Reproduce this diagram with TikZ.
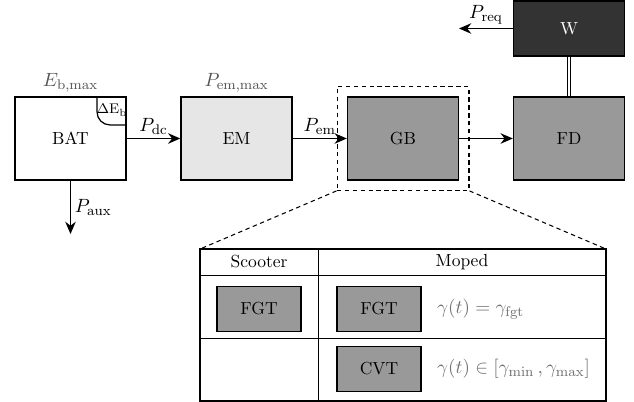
\documentclass[tikz,border=0pt]{standalone}
\usetikzlibrary{arrows.meta,fit}
\definecolor{emgray}{HTML}{E6E6E6}
\definecolor{gbgray}{HTML}{999999}
\definecolor{wdark}{HTML}{333333}
\definecolor{capgray}{HTML}{555555}
\definecolor{ratiogray}{HTML}{707070}
\begin{document}
\begin{tikzpicture}[x=0.5714pt,y=-0.5714pt,
  block/.style={draw=black, line width=0.8pt, minimum width=63.4pt, minimum height=47.3pt, inner sep=0pt},
  gearbox/.style={draw=black, line width=0.8pt, fill=gbgray, minimum width=48.2pt, minimum height=25.7pt, inner sep=0pt},
  flow/.style={-{Stealth[length=7pt,width=6pt]}, line width=0.9pt},
  flowlabel/.style={font=\fontsize{11.2}{13}\selectfont, inner sep=2pt},
  caplabel/.style={text=capgray, anchor=south, inner sep=2pt, font=\fontsize{11}{13}\selectfont},
  ratio/.style={text=ratiogray, anchor=west, font=\fontsize{11}{13}\selectfont},
  tableline/.style={line width=0.7pt},
  zoomline/.style={line width=0.6pt, dash pattern=on 2.5pt off 2pt}]
\useasboundingbox (0,0) rectangle (634,402);

% powertrain blocks
\node[block] (bat) at (70.5,138.5) {BAT};
\node[block, fill=emgray] (em) at (236.5,138.5) {EM};
\node[block, fill=gbgray] (gb) at (403,138.5) {GB};
\node[block, fill=gbgray] (fd) at (569,138.5) {FD};
\node[block, fill=wdark, text=white, minimum height=31.4pt] (w) at (569,28.5) {W};

% capacity labels
\node[caplabel] (ebmax) at (bat.north) {$E_{\mathrm{b,max}}$};
\node[caplabel] (emmax) at (em.north) {$P_{\mathrm{em,max}}$};

% state-of-charge corner
\draw[line width=0.7pt, rounded corners=7.5pt] (97,97.5) |- (126,125);
\node[font=\footnotesize, inner sep=0pt] (deb) at (112,110) {$\mathrm{\Delta E_b}$};

% power flows
\draw[flow] (bat) -- (em) node[midway, above, flowlabel] (pdc) {$P_{\mathrm{dc}}$};
\draw[flow] (em) -- (gb) node[midway, above, flowlabel] (pem) {$P_{\mathrm{em}}$};
\draw[flow] (gb) -- (fd);
\coordinate (auxend) at (70.5,234);
\draw[flow] (bat.south) -- (auxend) node[midway, right, flowlabel] (paux) {$P_{\mathrm{aux}}$};
\coordinate (reqend) at (459,28.5);
\draw[flow] (w.west) -- (reqend) node[midway, above, flowlabel] (preq) {$P_{\mathrm{req}}$};
\draw[line width=0.6pt, double, double distance=1.6pt] (w.south) -- (fd.north);

% zoom frame around the gearbox
\node[zoomline, draw, fit=(gb), inner sep=5.6pt] (zoom) {};

% gearbox options table
\coordinate (ttl) at (200,249);
\coordinate (ttr) at (606,249);
\coordinate (tbl) at (200,401);
\coordinate (tbr) at (606,401);
\draw[tableline] (ttl) rectangle (tbr);
\draw[tableline] (200,275.7) -- (606,275.7);
\draw[tableline] (200,338.3) -- (606,338.3);
\draw[tableline] (318.7,249) -- (318.7,401);
\draw[zoomline] (zoom.south west) -- (ttl);
\draw[zoomline] (zoom.south east) -- (ttr);

\node (scooter) at (259,262) {Scooter};
\node (moped) at (462,262) {Moped};
\node[gearbox] (sfgt) at (259,309) {FGT};
\node[gearbox] (mfgt) at (379,309) {FGT};
\node[gearbox] (mcvt) at (379,369) {CVT};
\node[ratio] (rfgt) at (431,309) {$\gamma(t) = \gamma_{\mathrm{fgt}}$};
\node[ratio] (rcvt) at (431,369) {$\gamma(t) \in [\gamma_{\mathrm{min}}\,, \gamma_{\mathrm{max}}]$};
\end{tikzpicture}
\end{document}
